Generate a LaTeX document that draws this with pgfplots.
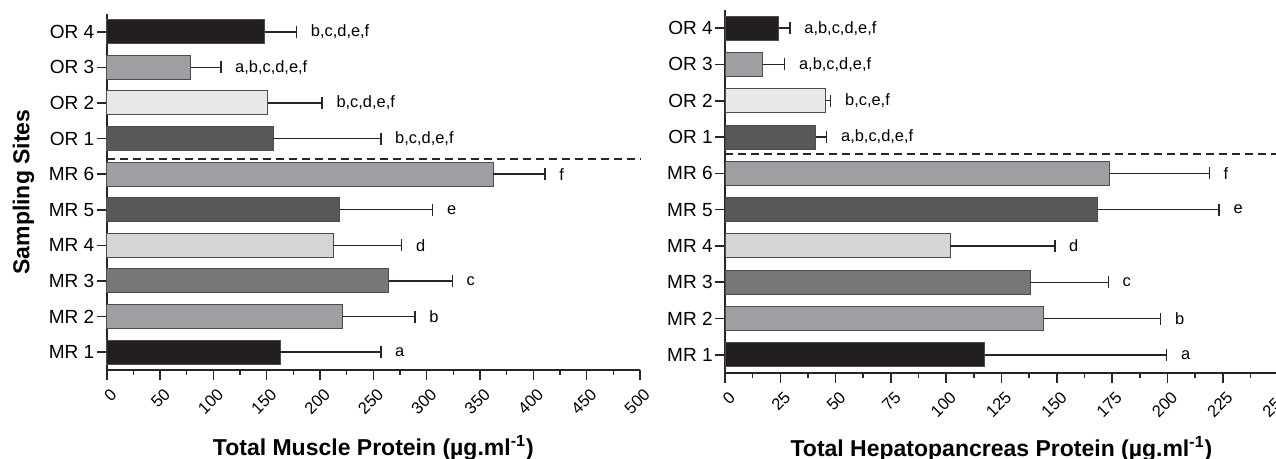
\documentclass[border=0pt]{standalone}
\usepackage{fontspec}
\setmainfont{Liberation Sans}
\usepackage{pgfplots}
\pgfplotsset{compat=1.18}
\definecolor{cBlack}{RGB}{35,31,32}
\definecolor{cMid}{RGB}{159,158,163}
\definecolor{cMR3}{RGB}{120,118,120}
\definecolor{cMR4}{RGB}{213,213,213}
\definecolor{cDark}{RGB}{88,87,90}
\definecolor{cOR2}{RGB}{232,232,232}
\tikzset{
  mybar/.style={fill=#1, draw=black!70, line width=0.5pt},
  lab/.style={anchor=west, inner sep=0pt, xshift=7pt, font=\fontsize{8.2}{10}\selectfont},
}
\pgfplotsset{
  mystyle/.style={
    scale only axis,
    axis lines*=left,
    axis line style={line width=0.9pt, black!85},
    ymin=-0.5, ymax=9.5,
    ytick={0,...,9},
    yticklabels={MR 1,MR 2,MR 3,MR 4,MR 5,MR 6,OR 1,OR 2,OR 3,OR 4},
    tick align=outside,
    tick style={line width=0.8pt, black!85},
    major tick length=5pt, minor tick length=2.5pt,
    minor x tick num=1,
    minor y tick num=0,
    yticklabel style={font=\fontsize{9.5}{11}\selectfont, inner sep=1pt},
    xticklabel style={font=\fontsize{8.3}{10}\selectfont, rotate=45, anchor=north east, inner sep=0.5pt, yshift=-3pt, xshift=-1pt},
    /pgf/number format/assume math mode=true,
    xbar, bar width=12pt, bar shift=0pt,
    error bars/x dir=plus, error bars/x explicit,
    error bars/error mark=|,
    error bars/error bar style={line width=0.7pt, black!85},
    error bars/error mark options={line width=0.7pt, black!85, mark size=3pt},
    xlabel style={font=\bfseries\fontsize{11.5}{13}\selectfont, anchor=center},
    ylabel style={font=\bfseries\fontsize{11.5}{13}\selectfont, anchor=center},
    clip=false,
  },
}
\begin{document}
\begin{tikzpicture}
\useasboundingbox (0,0) rectangle (638pt,229.5pt);
\begin{axis}[mystyle,
  at={(53.35pt,44.5pt)}, anchor=south west,
  width=266.65pt, height=178pt,
  xmin=0, xmax=500, xtick={0,50,...,500},
  xlabel={Total Muscle Protein (µg.ml\textsuperscript{-1})},
  xlabel style={at={(axis description cs:0.5,-0.219)}},
  ylabel={Sampling Sites},
  ylabel style={at={(axis description cs:-0.156,0.5)}},
]
\addplot[mybar=cBlack] coordinates {(162.5,0) +- (94.5,0)};
\addplot[mybar=cMid]   coordinates {(221,1) +- (68,0)};
\addplot[mybar=cMR3]   coordinates {(264.5,2) +- (59.5,0)};
\addplot[mybar=cMR4]   coordinates {(212.5,3) +- (64,0)};
\addplot[mybar=cDark]  coordinates {(218.7,4) +- (87,0)};
\addplot[mybar=cMid]   coordinates {(362.4,5) +- (48.6,0)};
\addplot[mybar=cDark]  coordinates {(156,6) +- (101,0)};
\addplot[mybar=cOR2]   coordinates {(151,7) +- (51,0)};
\addplot[mybar=cMid]   coordinates {(79,8) +- (28,0)};
\addplot[mybar=cBlack] coordinates {(148,9) +- (30,0)};
\draw[line width=1pt, black!85, dash pattern=on 4pt off 2.5pt] (axis cs:0,5.44) -- (axis cs:500,5.44);
\node[lab] at (axis cs:257,0) {a};
\node[lab] at (axis cs:289,1) {b};
\node[lab] at (axis cs:324,2) {c};
\node[lab] at (axis cs:276.5,3) {d};
\node[lab] at (axis cs:305.7,4) {e};
\node[lab] at (axis cs:411,5) {f};
\node[lab] at (axis cs:257,6) {b,c,d,e,f};
\node[lab] at (axis cs:202,7) {b,c,d,e,f};
\node[lab] at (axis cs:107,8) {a,b,c,d,e,f};
\node[lab] at (axis cs:178,9) {b,c,d,e,f};
\end{axis}
\begin{axis}[mystyle,
  at={(362.5pt,43pt)}, anchor=south west,
  width=276.5pt, height=181.5pt,
  xmin=0, xmax=250, xtick={0,25,...,250},
  xlabel={Total Hepatopancreas Protein (µg.ml\textsuperscript{-1})},
  xlabel style={at={(axis description cs:0.5,-0.209)}},
]
\addplot[mybar=cBlack] coordinates {(117.4,0) +- (82.3,0)};
\addplot[mybar=cMid]   coordinates {(144.2,1) +- (52.8,0)};
\addplot[mybar=cMR3]   coordinates {(138.1,2) +- (35.2,0)};
\addplot[mybar=cMR4]   coordinates {(101.9,3) +- (47.2,0)};
\addplot[mybar=cDark]  coordinates {(168.6,4) +- (54.8,0)};
\addplot[mybar=cMid]   coordinates {(173.9,5) +- (45,0)};
\addplot[mybar=cDark]  coordinates {(41,6) +- (5,0)};
\addplot[mybar=cOR2]   coordinates {(45.6,7) +- (2.2,0)};
\addplot[mybar=cMid]   coordinates {(17,8) +- (10,0)};
\addplot[mybar=cBlack] coordinates {(24.3,9) +- (5.1,0)};
\draw[line width=1pt, black!85, dash pattern=on 4pt off 2.5pt] (axis cs:0,5.53) -- (axis cs:250,5.53);
\node[lab] at (axis cs:199.7,0) {a};
\node[lab] at (axis cs:197,1) {b};
\node[lab] at (axis cs:173.3,2) {c};
\node[lab] at (axis cs:149.1,3) {d};
\node[lab] at (axis cs:223.4,4) {e};
\node[lab] at (axis cs:218.9,5) {f};
\node[lab] at (axis cs:46,6) {a,b,c,d,e,f};
\node[lab] at (axis cs:47.8,7) {b,c,e,f};
\node[lab] at (axis cs:27,8) {a,b,c,d,e,f};
\node[lab] at (axis cs:29.4,9) {a,b,c,d,e,f};
\end{axis}
\end{tikzpicture}
\end{document}
